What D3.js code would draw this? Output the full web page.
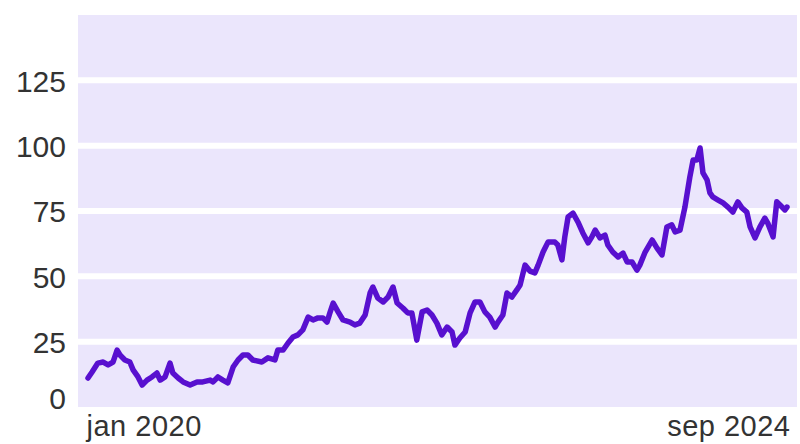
<!DOCTYPE html>
<html>
<head>
<meta charset="utf-8" />
<style>
body {
	margin: 0;
	background: #fff;
	font-family: Roboto, "Open Sans", Arial, sans-serif;
}
svg {
	display: block;
}
.tick-label {
	font-size: 30px;
	font-weight: 300;
	fill: #333;
}
.x-label {
	font-size: 29px;
	letter-spacing: 0.5px;
}
</style>
</head>
<body>
<script src="https://cdn.jsdelivr.net/npm/d3@7/dist/d3.min.js"></script>
<script>
var dates = ["2020-01-01","2020-01-11","2020-01-25","2020-02-07","2020-02-19","2020-03-02","2020-03-12","2020-03-19","2020-03-31","2020-04-12",
	"2020-04-20","2020-05-02","2020-05-12","2020-05-24","2020-06-05","2020-06-17","2020-06-25","2020-07-07","2020-07-19","2020-07-26",
	"2020-08-08","2020-08-20","2020-09-06","2020-09-23","2020-10-07","2020-10-25","2020-11-01","2020-11-13","2020-11-25","2020-12-07",
	"2020-12-20","2021-01-01","2021-01-13","2021-01-25","2021-02-06","2021-02-28","2021-03-15","2021-04-01","2021-04-08","2021-04-21",
	"2021-05-03","2021-05-15","2021-05-27","2021-06-08","2021-06-21","2021-07-03","2021-07-15","2021-07-27","2021-08-06","2021-08-13",
	"2021-08-21","2021-09-02","2021-09-14","2021-10-01","2021-10-13","2021-10-25","2021-11-07","2021-11-19","2021-11-26","2021-12-08",
	"2021-12-21","2022-01-02","2022-01-14","2022-01-24","2022-02-07","2022-02-19","2022-03-01","2022-03-13","2022-03-26","2022-04-07",
	"2022-04-19","2022-05-01","2022-05-13","2022-05-26","2022-06-07","2022-06-14","2022-06-26","2022-07-09","2022-07-21","2022-08-02",
	"2022-08-14","2022-08-26","2022-09-07","2022-09-20","2022-09-27","2022-10-09","2022-10-19","2022-10-31","2022-11-12","2022-11-20",
	"2022-12-02","2022-12-14","2022-12-26","2023-01-03","2023-01-15","2023-01-27","2023-02-13","2023-02-20","2023-03-02","2023-03-09",
	"2023-03-17","2023-03-29","2023-04-10","2023-04-22","2023-05-05","2023-05-14","2023-05-22","2023-06-03","2023-06-15","2023-06-22",
	"2023-07-04","2023-07-17","2023-07-29","2023-08-08","2023-08-20","2023-09-01","2023-09-08","2023-09-21","2023-10-08","2023-10-20",
	"2023-11-01","2023-11-13","2023-11-25","2023-12-03","2023-12-15","2023-12-27","2024-01-08","2024-01-16","2024-01-25","2024-02-02",
	"2024-02-09","2024-02-19","2024-02-26","2024-03-04","2024-03-17","2024-03-29","2024-04-10","2024-04-22","2024-05-04","2024-05-14",
	"2024-05-26","2024-06-03","2024-06-15","2024-06-27","2024-07-09","2024-07-16","2024-07-29","2024-08-07","2024-08-15","2024-08-27",
	"2024-09-01"];

var values = [11.1,13.4,16.8,17.2,16.1,17.2,21.8,19.9,18.0,17.2,
	14.2,11.5,8.4,10.3,11.5,13.0,10.3,11.5,16.8,13.0,
	11.1,9.6,8.4,9.6,9.6,10.3,9.6,11.5,10.3,9.2,
	15.3,18.0,19.9,19.9,18.0,17.2,18.8,18.0,21.8,21.8,
	24.5,26.8,27.6,29.5,34.4,33.3,34.1,34.1,32.5,36.0,
	39.8,36.4,33.3,32.5,31.4,32.1,35.2,43.6,45.9,41.7,
	40.2,42.1,45.9,39.8,37.9,36.0,36.0,25.6,36.4,37.1,
	35.2,32.1,27.6,30.6,28.7,23.7,26.4,28.7,36.0,40.2,
	40.2,36.4,34.4,30.6,32.5,35.2,43.6,42.1,44.8,46.7,
	54.3,52.0,51.3,54.3,59.3,63.1,63.1,62.0,56.3,65.1,
	72.7,74.2,70.8,66.6,62.8,65.1,67.7,64.7,65.8,62.0,
	59.3,57.4,58.9,55.5,55.5,52.4,54.3,59.3,63.9,60.8,
	58.2,68.9,69.7,67.0,67.7,76.5,88.0,94.5,94.5,99.1,
	89.6,86.9,81.9,80.4,79.2,78.1,76.5,74.6,78.5,76.2,
	74.6,68.9,64.7,68.9,72.3,70.4,65.1,78.5,77.3,75.4,
	76.5];

var yTicks = [0, 25, 50, 75, 100, 125];
var xTickDates = ["2020-01-01", "2024-09-01"];
var xTickLabels = ["jan 2020", "sep 2024"];

var width = 800,
    height = 444;

var parse = d3.timeParse("%Y-%m-%d");

var data = dates.map(function(d, i) {
	return { date: parse(d), value: values[i] };
});

var x = d3.scaleTime()
	.domain([parse(xTickDates[0]), parse(xTickDates[1])])
	.range([88, 787]);

var y = d3.scaleLinear()
	.domain([0, 150])
	.range([407, 15]);

var svg = d3.select("body").append("svg")
	.attr("width", width)
	.attr("height", height);

// plot background
svg.append("rect")
	.attr("x", x.range()[0] - 10)
	.attr("y", y(150))
	.attr("width", x.range()[1] - x.range()[0] + 20)
	.attr("height", y(0) - y(150))
	.attr("fill", "#ebe6fc");

// white gridlines
svg.append("g")
	.selectAll("line")
	.data(yTicks.filter(function(t) { return t > 0; }))
	.enter().append("line")
		.attr("x1", x.range()[0] - 10)
		.attr("x2", x.range()[1] + 10)
		.attr("y1", function(d) { return y(d); })
		.attr("y2", function(d) { return y(d); })
		.attr("stroke", "#fff")
		.attr("stroke-width", 6);

// y labels
var yAxis = svg.append("g")
	.attr("transform", "translate(66,0)")
	.call(d3.axisLeft(y).tickValues(yTicks).tickSize(0).tickPadding(0));

yAxis.select(".domain").remove();
yAxis.selectAll("text")
	.attr("class", "tick-label")
	.attr("font-family", null)
	.attr("font-size", null)
	.attr("fill", null)
	.attr("dy", "0.36em");

// zero label sits a little above the bottom edge
yAxis.selectAll(".tick")
	.filter(function(d) { return d === 0; })
	.attr("transform", "translate(0," + (y(0) - 9) + ")");

// x labels
var xAxis = svg.append("g")
	.attr("transform", "translate(0,436)")
	.call(d3.axisBottom(x)
		.tickValues(xTickDates.map(parse))
		.tickSize(0)
		.tickPadding(0)
		.tickFormat(function(d, i) { return xTickLabels[i]; }));

xAxis.select(".domain").remove();
xAxis.selectAll("text")
	.attr("class", "tick-label x-label")
	.attr("font-family", null)
	.attr("font-size", null)
	.attr("fill", null)
	.attr("dy", 0)
	.attr("y", 0)
	.attr("text-anchor", function(d, i) { return i === 0 ? "start" : "end"; })
	.attr("x", function(d, i) { return i === 0 ? -2 : 3; });

// the line
var line = d3.line()
	.x(function(d) { return x(d.date); })
	.y(function(d) { return y(d.value); });

svg.append("path")
	.datum(data)
	.attr("d", line)
	.attr("fill", "none")
	.attr("stroke", "#5810cf")
	.attr("stroke-width", 5.5)
	.attr("stroke-linejoin", "round")
	.attr("stroke-linecap", "round");

</script>
</body>
</html>
